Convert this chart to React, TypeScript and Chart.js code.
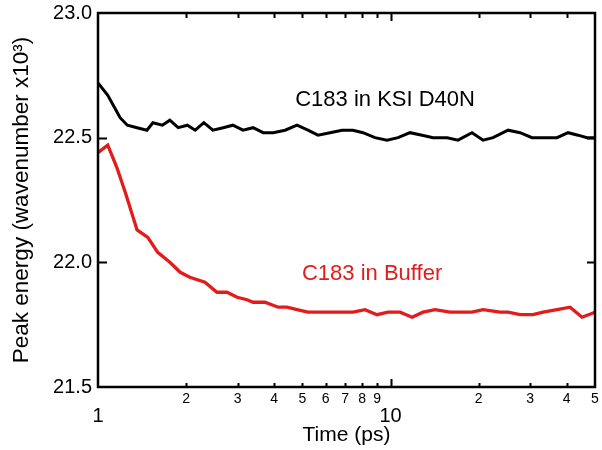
import React, { useEffect, useRef } from "react";
import { Chart, registerables } from "chart.js";

Chart.register(...registerables);

// ---- Data ----
const xTicks = [1, 2, 3, 4, 5, 6, 7, 8, 9, 10, 20, 30, 40, 50];
const yTicks = [21.5, 22.0, 22.5, 23.0];

const kinaseTimes = [
  1.0, 1.08, 1.14, 1.19, 1.26, 1.36, 1.47, 1.54, 1.66, 1.76, 1.88, 2.02, 2.15, 2.3, 2.47, 2.68, 2.89,
  3.13, 3.39, 3.67, 3.97, 4.36, 4.79, 5.22, 5.65, 6.21, 6.83, 7.44, 8.05, 8.85, 9.73, 10.61, 11.66,
  12.82, 13.98, 15.61, 17.01, 18.99, 20.72, 22.41, 25.22, 27.72, 30.46, 33.22, 37.09, 40.45, 43.75,
  46.96, 50,
];
const kinaseValues = [
  22.72, 22.67, 22.62, 22.58, 22.55, 22.54, 22.53, 22.56, 22.55, 22.57, 22.54, 22.55, 22.53, 22.56,
  22.53, 22.54, 22.55, 22.53, 22.54, 22.52, 22.52, 22.53, 22.55, 22.53, 22.51, 22.52, 22.53, 22.53,
  22.52, 22.5, 22.49, 22.5, 22.52, 22.51, 22.5, 22.5, 22.49, 22.52, 22.49, 22.5, 22.53, 22.52, 22.5,
  22.5, 22.5, 22.52, 22.51, 22.5, 22.5,
];

const bufferTimes = [
  1.0, 1.08, 1.16, 1.24, 1.36, 1.48, 1.6, 1.76, 1.91, 2.06, 2.32, 2.55, 2.76, 2.99, 3.23, 3.39, 3.72,
  4.13, 4.43, 4.79, 5.22, 5.65, 6.21, 6.72, 7.44, 8.18, 8.99, 9.8, 10.78, 11.85, 12.91, 14.2, 15.97,
  18.99, 20.72, 23.68, 25.22, 27.72, 30.7, 33.22, 37.09, 41.09, 45.15, 50,
];
const bufferValues = [
  22.44, 22.47, 22.38, 22.28, 22.13, 22.1, 22.04, 22.0, 21.96, 21.94, 21.92, 21.88, 21.88, 21.86,
  21.85, 21.84, 21.84, 21.82, 21.82, 21.81, 21.8, 21.8, 21.8, 21.8, 21.8, 21.81, 21.79, 21.8, 21.8,
  21.78, 21.8, 21.81, 21.8, 21.8, 21.81, 21.8, 21.8, 21.79, 21.79, 21.8, 21.81, 21.82, 21.78, 21.8,
];

const seriesNames = ["C183 in KSI D40N", "C183 in Buffer"];
// annotation anchor positions, in data units (time, energy)
const kinaseLabelAt = [9.58, 22.65];
const bufferLabelAt = [8.65, 21.953];

const RED = "#e41b1b";
const FONT = "'Liberation Sans', Arial, sans-serif";

const decorPlugin = {
  id: "decor",
  afterDatasetsDraw(chart: any) {
    const { ctx, chartArea } = chart;
    const xs = chart.scales.x;
    const ys = chart.scales.y;
    const { left, right, top, bottom } = chartArea;
    ctx.save();
    ctx.strokeStyle = "#000";
    ctx.lineWidth = 2;
    // inward tick marks on x (bottom and top)
    xTicks.forEach((v) => {
      if (v === xs.min || v === xs.max) return;
      const px = Math.round(xs.getPixelForValue(v)) + 0.5;
      const major = v === 10;
      const lb = major ? 8 : 4;
      const lt = major ? 8 : 5;
      ctx.beginPath();
      ctx.moveTo(px, bottom);
      ctx.lineTo(px, bottom - lb);
      ctx.moveTo(px, top);
      ctx.lineTo(px, top + lt);
      ctx.stroke();
    });
    // inward tick marks on y (left and right)
    yTicks.forEach((v) => {
      if (v === ys.min || v === ys.max) return;
      const py = Math.round(ys.getPixelForValue(v)) + 0.5;
      ctx.beginPath();
      ctx.moveTo(left, py);
      ctx.lineTo(left + 9, py);
      ctx.moveTo(right, py);
      ctx.lineTo(right - 8, py);
      ctx.stroke();
    });
    // frame
    ctx.lineWidth = 2.5;
    ctx.strokeRect(left, top, right - left, bottom - top);

    // annotations
    ctx.font = `22px ${FONT}`;
    ctx.textAlign = "center";
    ctx.textBaseline = "middle";
    ctx.fillStyle = "#000";
    ctx.fillText(
      seriesNames[0],
      xs.getPixelForValue(kinaseLabelAt[0]),
      ys.getPixelForValue(kinaseLabelAt[1])
    );
    ctx.fillStyle = RED;
    ctx.fillText(
      seriesNames[1],
      xs.getPixelForValue(bufferLabelAt[0]),
      ys.getPixelForValue(bufferLabelAt[1])
    );
    ctx.restore();
  },
};

export default function App() {
  const ref = useRef<HTMLCanvasElement | null>(null);

  useEffect(() => {
    if (!ref.current) return;
    const chart = new Chart(ref.current, {
      type: "line",
      data: {
        datasets: [
          {
            label: seriesNames[0],
            data: kinaseTimes.map((t, i) => ({ x: t, y: kinaseValues[i] })),
            borderColor: "#000",
            borderWidth: 3,
            pointRadius: 0,
            tension: 0,
            fill: false,
          },
          {
            label: seriesNames[1],
            data: bufferTimes.map((t, i) => ({ x: t, y: bufferValues[i] })),
            borderColor: RED,
            borderWidth: 3.3,
            pointRadius: 0,
            tension: 0,
            fill: false,
          },
        ],
      },
      options: {
        animation: false,
        responsive: false,
        devicePixelRatio: 1,
        layout: { padding: { top: 13, right: 7, left: 0, bottom: 0 } },
        plugins: {
          legend: { display: false },
          tooltip: { enabled: false },
          title: { display: false },
        },
        scales: {
          x: {
            type: "logarithmic",
            min: 1,
            max: 50,
            grid: { display: false, drawTicks: false },
            border: { display: false },
            afterBuildTicks: (scale: any) => {
              scale.ticks = xTicks.map((v) => ({ value: v, major: v === 1 || v === 10 }));
            },
            afterFit: (scale: any) => {
              scale.height = 63;
              scale.paddingLeft = 0;
              scale.paddingRight = 0;
            },
            ticks: {
              autoSkip: false,
              maxRotation: 0,
              minRotation: 0,
              padding: 4,
              color: "#000",
              font: (ctx: any) => {
                const v = ctx.tick ? ctx.tick.value : 0;
                return v === 1 || v === 10
                  ? { size: 20, family: FONT, lineHeight: 0.85 }
                  : { size: 14, family: FONT, lineHeight: 1.2 };
              },
              callback: (value: any) => {
                const v = Number(value);
                if (v === 1 || v === 10) return ["", String(v)];
                if (v >= 20) return String(v / 10);
                return String(v);
              },
            },
            title: {
              display: true,
              text: "Time (ps)",
              color: "#000",
              font: { size: 21, family: FONT },
              padding: { top: 0, bottom: 2 },
            },
          },
          y: {
            type: "linear",
            min: 21.5,
            max: 23.0,
            grid: { display: false, drawTicks: false },
            border: { display: false },
            afterBuildTicks: (scale: any) => {
              scale.ticks = yTicks.map((v) => ({ value: v }));
            },
            afterFit: (scale: any) => {
              scale.width = 98;
              scale.paddingTop = 0;
              scale.paddingBottom = 0;
            },
            ticks: {
              padding: 6,
              color: "#000",
              font: { size: 20, family: FONT },
              callback: (value: any) => Number(value).toFixed(1),
            },
            title: {
              display: true,
              text: "Peak energy (wavenumber x10³)",
              color: "#000",
              font: { size: 22.5, family: FONT },
              padding: { top: 8, bottom: 0 },
            },
          },
        },
      },
      plugins: [decorPlugin],
    });
    return () => chart.destroy();
  }, []);

  return (
    <div style={{ position: "absolute", left: 0, top: 0, width: 602, height: 450, background: "#fff" }}>
      <canvas ref={ref} width={602} height={450} style={{ width: 602, height: 450 }} />
    </div>
  );
}
